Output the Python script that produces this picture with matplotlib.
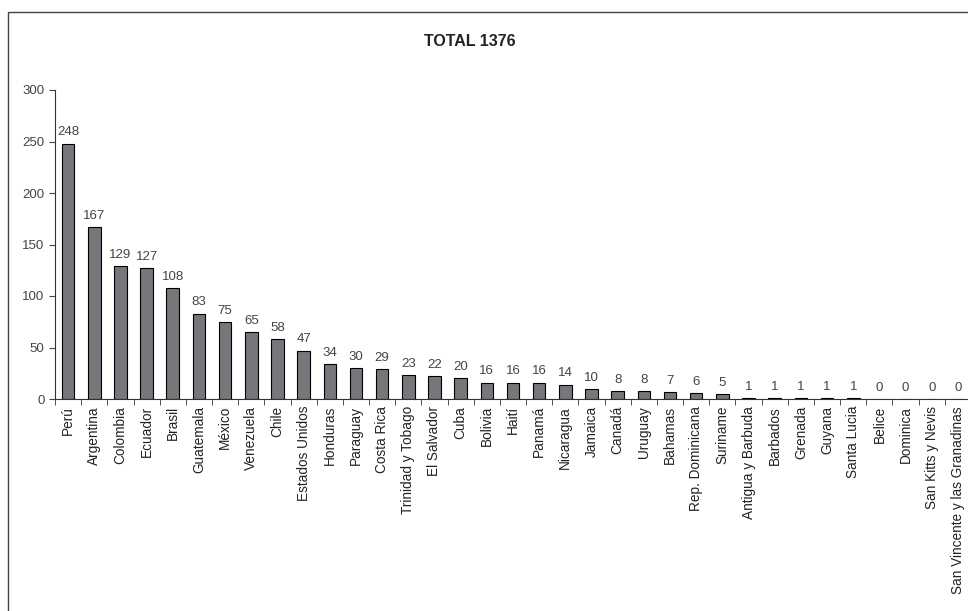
import matplotlib
matplotlib.use("Agg")
import matplotlib.pyplot as plt
from matplotlib.patches import Rectangle

paises = ["Perú", "Argentina", "Colombia", "Ecuador", "Brasil", "Guatemala", "México",
          "Venezuela", "Chile", "Estados Unidos", "Honduras", "Paraguay", "Costa Rica",
          "Trinidad y Tobago", "El Salvador", "Cuba", "Bolivia", "Haití", "Panamá",
          "Nicaragua", "Jamaica", "Canadá", "Uruguay", "Bahamas", "Rep. Dominicana",
          "Suriname", "Antigua y Barbuda", "Barbados", "Grenada", "Guyana", "Santa Lucia",
          "Belice", "Dominica", "San Kitts y Nevis", "San Vincente y las Granadinas"]
valores = [248, 167, 129, 127, 108, 83, 75, 65, 58, 47, 34, 30, 29, 23, 22, 20, 16, 16,
           16, 14, 10, 8, 8, 7, 6, 5, 1, 1, 1, 1, 1, 0, 0, 0, 0]

plt.rcParams['font.family'] = ['Liberation Sans', 'DejaVu Sans']

fig = plt.figure(figsize=(9.68, 6.11), dpi=100)
# marco del grafico (se sale por la derecha y abajo)
fig.patches.append(Rectangle((8/968, -0.1), 1.2, 1.1 - 12/611, transform=fig.transFigure,
                             fill=False, edgecolor='#444444', linewidth=1.0))
ax = fig.add_axes([55/968, 1-399/611, 916/968, (399-90)/611])

x = range(len(paises))
ax.bar(x, valores, width=0.48, color='#77777b', edgecolor='black', linewidth=0.8)
for i, v in enumerate(valores):
    ax.text(i, v + 5, str(v), ha='center', va='bottom', fontsize=9.5, color='#444444')

ax.set_xlim(-0.5, len(paises) - 0.5)
ax.set_ylim(0, 300)
ax.set_yticks(range(0, 301, 50))
ax.set_xticks([i for i in x])
ax.set_xticklabels(paises, rotation=90, fontsize=9.8, color='#222222')
ax.set_xticks([i - 0.5 for i in range(len(paises) + 1)], minor=True)
ax.tick_params(axis='x', which='major', length=0, pad=5)
ax.tick_params(axis='x', which='minor', length=4, color='#333333')
ax.tick_params(axis='y', length=4, labelsize=9.5, colors='#444444')
for s in ['top', 'right']:
    ax.spines[s].set_visible(False)
for s in ['left', 'bottom']:
    ax.spines[s].set_color('#333333')

fig.text(470/968, 1-42/611, "TOTAL 1376", ha='center', va='center', fontsize=11.5,
         fontweight='bold', color='#222222')

fig.savefig("out.png", dpi=100)
